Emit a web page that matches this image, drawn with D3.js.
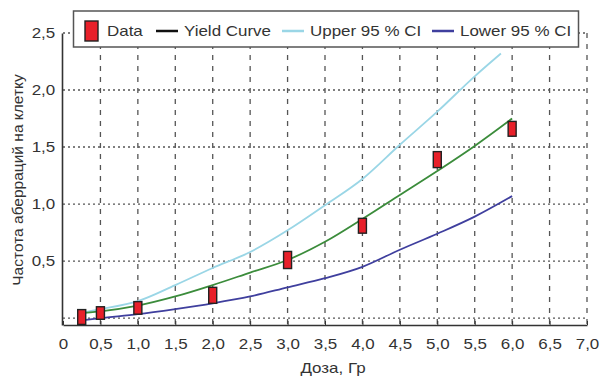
<!DOCTYPE html>
<html>
<head>
<meta charset="utf-8">
<script src="https://cdn.jsdelivr.net/npm/d3@7"></script>
<style>
  body { margin: 0; background: #fff; }
  svg { display: block; font-family: 'Liberation Sans', Arial, sans-serif; }
  .axis path, .axis line { stroke: #333; }
  .axis text { fill: #333; font-size: 15px; }
</style>
</head>
<body>
<div class="chart"></div>
<script>
// measured points (dose, Gy) and aberration frequency per cell
var doses = [0.25, 0.5, 1.0, 2.0, 3.0, 4.0, 5.0, 6.0];
var freq = [0.01, 0.045, 0.09, 0.20, 0.51, 0.81, 1.39, 1.66];
var freqErr = [0.065, 0.055, 0.055, 0.07, 0.075, 0.065, 0.07, 0.065];

// curves
var curveDose = [0.25, 0.5, 1.0, 1.5, 2.0, 2.5, 3.0, 3.5, 4.0, 4.5, 5.0, 5.5, 6.0];
var yieldCurve = [0.045, 0.06, 0.11, 0.19, 0.29, 0.40, 0.51, 0.67, 0.87, 1.08, 1.29, 1.51, 1.75];
var lowerCI = [-0.02, 0.0, 0.035, 0.08, 0.13, 0.19, 0.27, 0.35, 0.45, 0.60, 0.74, 0.89, 1.07];
var upperDose = [0.25, 0.5, 1.0, 1.5, 2.0, 2.5, 3.0, 3.5, 4.0, 4.5, 5.0, 5.5, 5.85];
var upperCI = [0.05, 0.08, 0.15, 0.29, 0.44, 0.58, 0.77, 0.99, 1.22, 1.52, 1.81, 2.12, 2.32];

var xTicks = [0, 0.5, 1, 1.5, 2, 2.5, 3, 3.5, 4, 4.5, 5, 5.5, 6, 6.5, 7];
var yTicks = [0.5, 1, 1.5, 2, 2.5];
var yGrid = [0, 0.5, 1, 1.5, 2, 2.5];

var legendItems = [
  {name: 'Data', type: 'rect', color: '#e8202a'},
  {name: 'Yield Curve', type: 'line', color: '#111'},
  {name: 'Upper 95 % CI', type: 'line', color: '#9ad6e6'},
  {name: 'Lower 95 % CI', type: 'line', color: '#3f3f9e'}
];

var width = 600, height = 376;
var stretch = 'scale(1.13,1)';   // source picture is a bit wider than tall
var fmt = d => d === 0 ? '0' : d.toFixed(1).replace('.', ',');

var x = d3.scaleLinear().domain([0, 7]).range([63, 587]);
var y = d3.scaleLinear().domain([-0.06, 2.5]).range([325, 33]);

var svg = d3.select('div.chart').append('svg')
    .attr('width', width)
    .attr('height', height);

// grid
svg.append('g').selectAll('line')
  .data(xTicks.filter(d => d > 0)).enter().append('line')
    .attr('x1', d => x(d)).attr('x2', d => x(d))
    .attr('y1', y(2.5)).attr('y2', y(-0.06))
    .attr('stroke', '#555')
    .attr('stroke-width', 1.3)
    .attr('stroke-dasharray', '5,6');

svg.append('g').selectAll('line')
  .data(yGrid).enter().append('line')
    .attr('x1', x(0)).attr('x2', x(7))
    .attr('y1', d => y(d)).attr('y2', d => y(d))
    .attr('stroke', '#555')
    .attr('stroke-width', 1.4)
    .attr('stroke-dasharray', '2,3');

// axes
svg.append('g')
    .attr('class', 'axis')
    .attr('transform', 'translate(0,' + y(-0.06) + ')')
    .call(d3.axisBottom(x)
          .tickValues(xTicks)
          .tickFormat(fmt)
          .tickSizeInner(-4)
          .tickSizeOuter(0)
          .tickPadding(11))
    .call(g => g.select('.domain').attr('stroke-width', 1.6))
    .call(g => g.selectAll('text').attr('dy', '0.9em').attr('transform', stretch));

svg.append('g')
    .attr('class', 'axis')
    .attr('transform', 'translate(' + (x(0) - 1) + ',0)')
    .call(d3.axisLeft(y)
          .tickValues(yTicks)
          .tickFormat(fmt)
          .tickSizeInner(0)
          .tickSizeOuter(0)
          .tickPadding(6))
    .call(g => g.select('.domain').attr('stroke-width', 1.6))
    .call(g => g.selectAll('text').attr('transform', stretch));

// curves
function drawCurve(xs, ys, color) {
  var line = d3.line()
      .x((d, i) => x(xs[i]))
      .y(d => y(d))
      .curve(d3.curveMonotoneX);
  svg.append('path')
      .datum(ys)
      .attr('fill', 'none')
      .attr('stroke', color)
      .attr('stroke-width', 1.8)
      .attr('d', line);
}
drawCurve(upperDose, upperCI, '#9ad6e6');
drawCurve(curveDose, lowerCI, '#3f3f9e');
drawCurve(curveDose, yieldCurve, '#3b8c3b');

// data boxes
svg.append('g').selectAll('rect')
  .data(doses).enter().append('rect')
    .attr('x', d => x(d) - 4)
    .attr('width', 8)
    .attr('y', (d, i) => y(freq[i] + freqErr[i]))
    .attr('height', (d, i) => y(freq[i] - freqErr[i]) - y(freq[i] + freqErr[i]))
    .attr('fill', '#e8202a')
    .attr('stroke', '#222')
    .attr('stroke-width', 1.4);

// legend
var legend = svg.append('g');
legend.append('rect')
    .attr('x', 73.5).attr('y', 11)
    .attr('width', 505).attr('height', 36)
    .attr('fill', '#fff')
    .attr('stroke', '#555')
    .attr('stroke-width', 1.5);

var legendX = [85, 156, 282, 432];
legendItems.forEach(function(item, i) {
  var lx = legendX[i];
  if (item.type === 'rect') {
    legend.append('rect')
        .attr('x', lx).attr('y', 21)
        .attr('width', 13).attr('height', 20)
        .attr('fill', item.color)
        .attr('stroke', '#222')
        .attr('stroke-width', 1.4);
    lx += 22;
  } else {
    legend.append('line')
        .attr('x1', lx).attr('x2', lx + 22)
        .attr('y1', 31).attr('y2', 31)
        .attr('stroke', item.color)
        .attr('stroke-width', 2.5);
    lx += 28;
  }
  legend.append('text')
      .attr('transform', 'translate(' + lx + ',36) ' + stretch)
      .attr('font-size', 15)
      .attr('fill', '#333')
      .text(item.name);
});

// axis titles
svg.append('text')
    .attr('text-anchor', 'middle')
    .attr('transform', 'translate(333,373) ' + stretch)
    .attr('font-size', 15)
    .attr('fill', '#333')
    .text('Доза, Гр');

svg.append('text')
    .attr('text-anchor', 'middle')
    .attr('transform', 'translate(23,180) rotate(-90)')
    .attr('font-size', 15.5)
    .attr('fill', '#333')
    .text('Частота аберраций на клетку');
</script>
</body>
</html>
